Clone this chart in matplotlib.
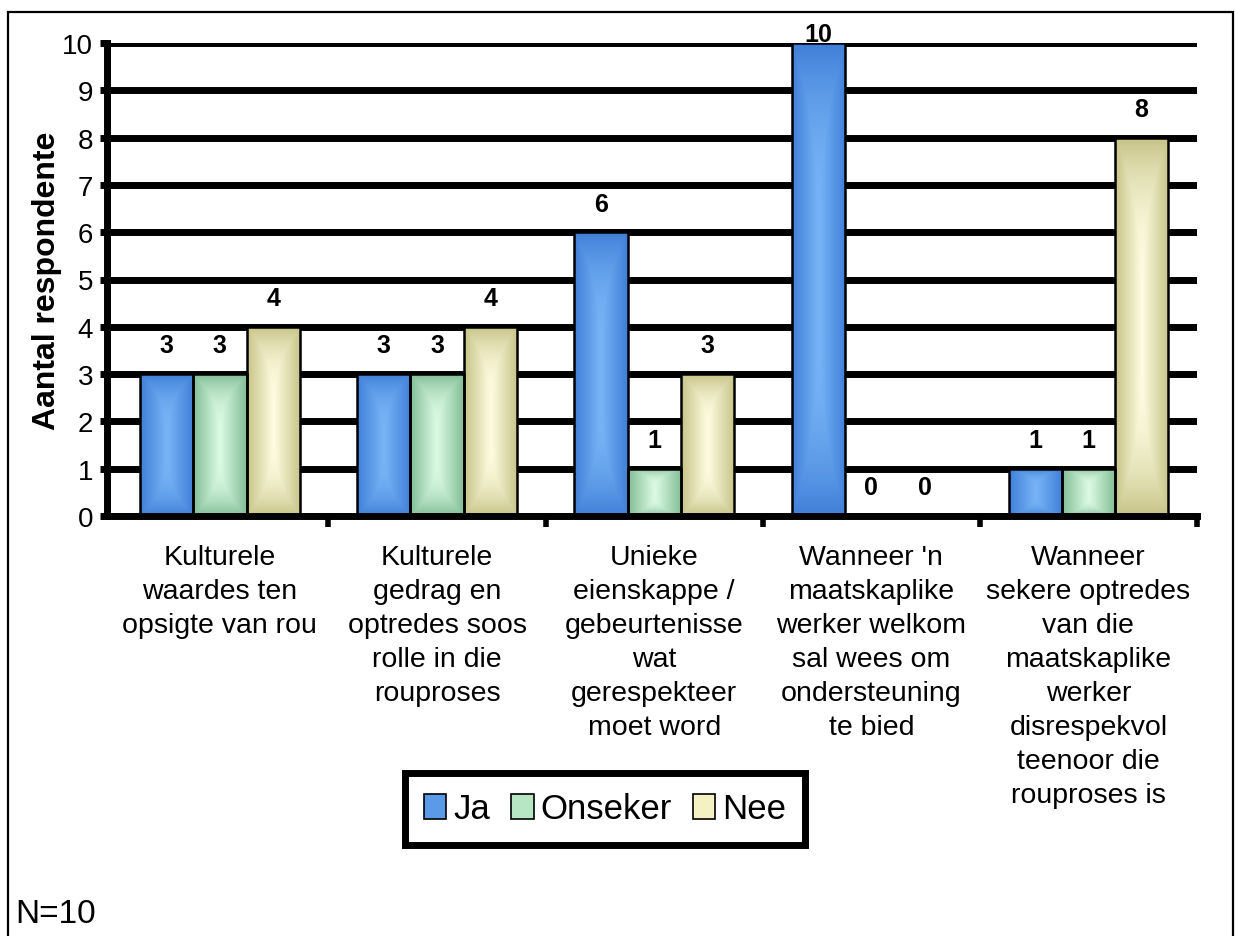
import numpy as np
import matplotlib
matplotlib.use("Agg")
import matplotlib.pyplot as plt
from matplotlib.colors import LinearSegmentedColormap
from matplotlib.patches import Patch, Rectangle

plt.rcParams['font.family'] = ['Liberation Sans', 'DejaVu Sans']

# ── data ────────────────────────────────────────────────
categories = [
    "Kulturele\nwaardes ten\nopsigte van rou",
    "Kulturele\ngedrag en\noptredes soos\nrolle in die\nrouproses",
    "Unieke\neienskappe /\ngebeurtenisse\nwat\ngerespekteer\nmoet word",
    "Wanneer 'n\nmaatskaplike\nwerker welkom\nsal wees om\nondersteuning\nte bied",
    "Wanneer\nsekere optredes\nvan die\nmaatskaplike\nwerker\ndisrespekvol\nteenoor die\nrouproses is",
]
series_names = ["Ja", "Onseker", "Nee"]
ja      = [3, 3, 6, 10, 1]
onseker = [3, 3, 1, 0, 1]
nee     = [4, 4, 3, 0, 8]
yticks  = list(range(0, 11))

# (edge colour, centre colour) for the "from centre" gradient fill
fills = [
    ("#3f7fd8", "#78b4f6"),
    ("#82bd96", "#dcfbe4"),
    ("#c6c387", "#fffde2"),
]

# ── figure ──────────────────────────────────────────────
fig = plt.figure(figsize=(12.35, 9.37), dpi=100)
fig.patches.append(Rectangle((8 / 1235, -0.05), (1233 - 8) / 1235, 1.05 - 13 / 937,
                             transform=fig.transFigure, fill=False,
                             edgecolor="black", lw=1.6))

ax = fig.add_axes([107 / 1235, 1 - 517 / 937, 1090 / 1235, 473 / 937])
XLIM = (-0.52, 4.49)


def gradient_bar(ax, x, h, w, c_edge, c_mid):
    """Bar filled with a rectangular gradient, lighter towards the centre."""
    rect = ax.bar(x, h, w, facecolor="none", edgecolor="black",
                  lw=1.8, zorder=4)[0]
    if h <= 0:
        return
    n = 200
    u = np.linspace(-1, 1, n)
    v = np.linspace(-1, 1, n)
    U, V = np.meshgrid(u, v)
    t = np.maximum(np.abs(U), np.abs(V) ** 3)
    cmap = LinearSegmentedColormap.from_list("g", [c_mid, c_edge])
    im = ax.imshow(t, cmap=cmap, vmin=0, vmax=1, aspect="auto",
                   extent=(x - w / 2, x + w / 2, 0, h), zorder=3,
                   interpolation="bilinear")
    im.set_clip_path(rect)


w = 0.245
xs = np.arange(len(categories))
for k, vals in enumerate([ja, onseker, nee]):
    for i, val in enumerate(vals):
        xc = xs[i] + (k - 1) * w
        gradient_bar(ax, xc, val, w, *fills[k])
        top = val >= 10
        ax.annotate(str(val), (xc, val), xytext=(0, -2 if top else 12),
                    textcoords="offset points", ha="center", va="bottom",
                    fontsize=18, fontweight="bold", zorder=6)

ax.set_xlim(*XLIM)
ax.set_ylim(0, 10)

# heavy horizontal gridlines
ax.set_yticks(yticks)
ax.yaxis.grid(True, color="black", lw=5)
ax.set_axisbelow(True)
for gl in ax.get_ygridlines():
    gl.set_zorder(1)

for side in ["top", "right"]:
    ax.spines[side].set_visible(False)
for side in ["left", "bottom"]:
    ax.spines[side].set_linewidth(5)
    ax.spines[side].set_capstyle("projecting")
    ax.spines[side].set_zorder(5)

ax.tick_params(axis="y", length=5, width=5, labelsize=20, pad=5)
ax.set_yticklabels([str(t) for t in yticks])

# category labels at group centres, tick marks at group boundaries
ax.set_xticks(xs)
ax.set_xticklabels(categories, fontsize=20.5, linespacing=1.4)
ax.tick_params(axis="x", which="major", length=0, pad=20)
ax.set_xticks(np.arange(0.5, 5.0, 1.0), minor=True)
ax.tick_params(axis="x", which="minor", length=8, width=4, direction="out")

ax.set_ylabel("Aantal respondente", fontsize=23, fontweight="bold", labelpad=0)

handles = [Patch(facecolor=c, edgecolor="black", lw=1.2, label=name)
           for name, c in zip(series_names, ["#5a9ae8", "#b6e6c4", "#f4f2c4"])]
leg = fig.legend(handles=handles, loc="center", ncol=3, fontsize=25,
                 bbox_to_anchor=(605 / 1235, 1 - 810 / 937),
                 handlelength=0.65, handleheight=0.7, handletextpad=0.2,
                 columnspacing=0.6, borderpad=0.55, frameon=True,
                 fancybox=False, edgecolor="black", framealpha=1)
leg.get_frame().set_linewidth(5)

fig.text(15 / 1235, 1 - 915 / 937, "N=10", fontsize=24, va="center", ha="left")

fig.savefig("out.png", dpi=100)
